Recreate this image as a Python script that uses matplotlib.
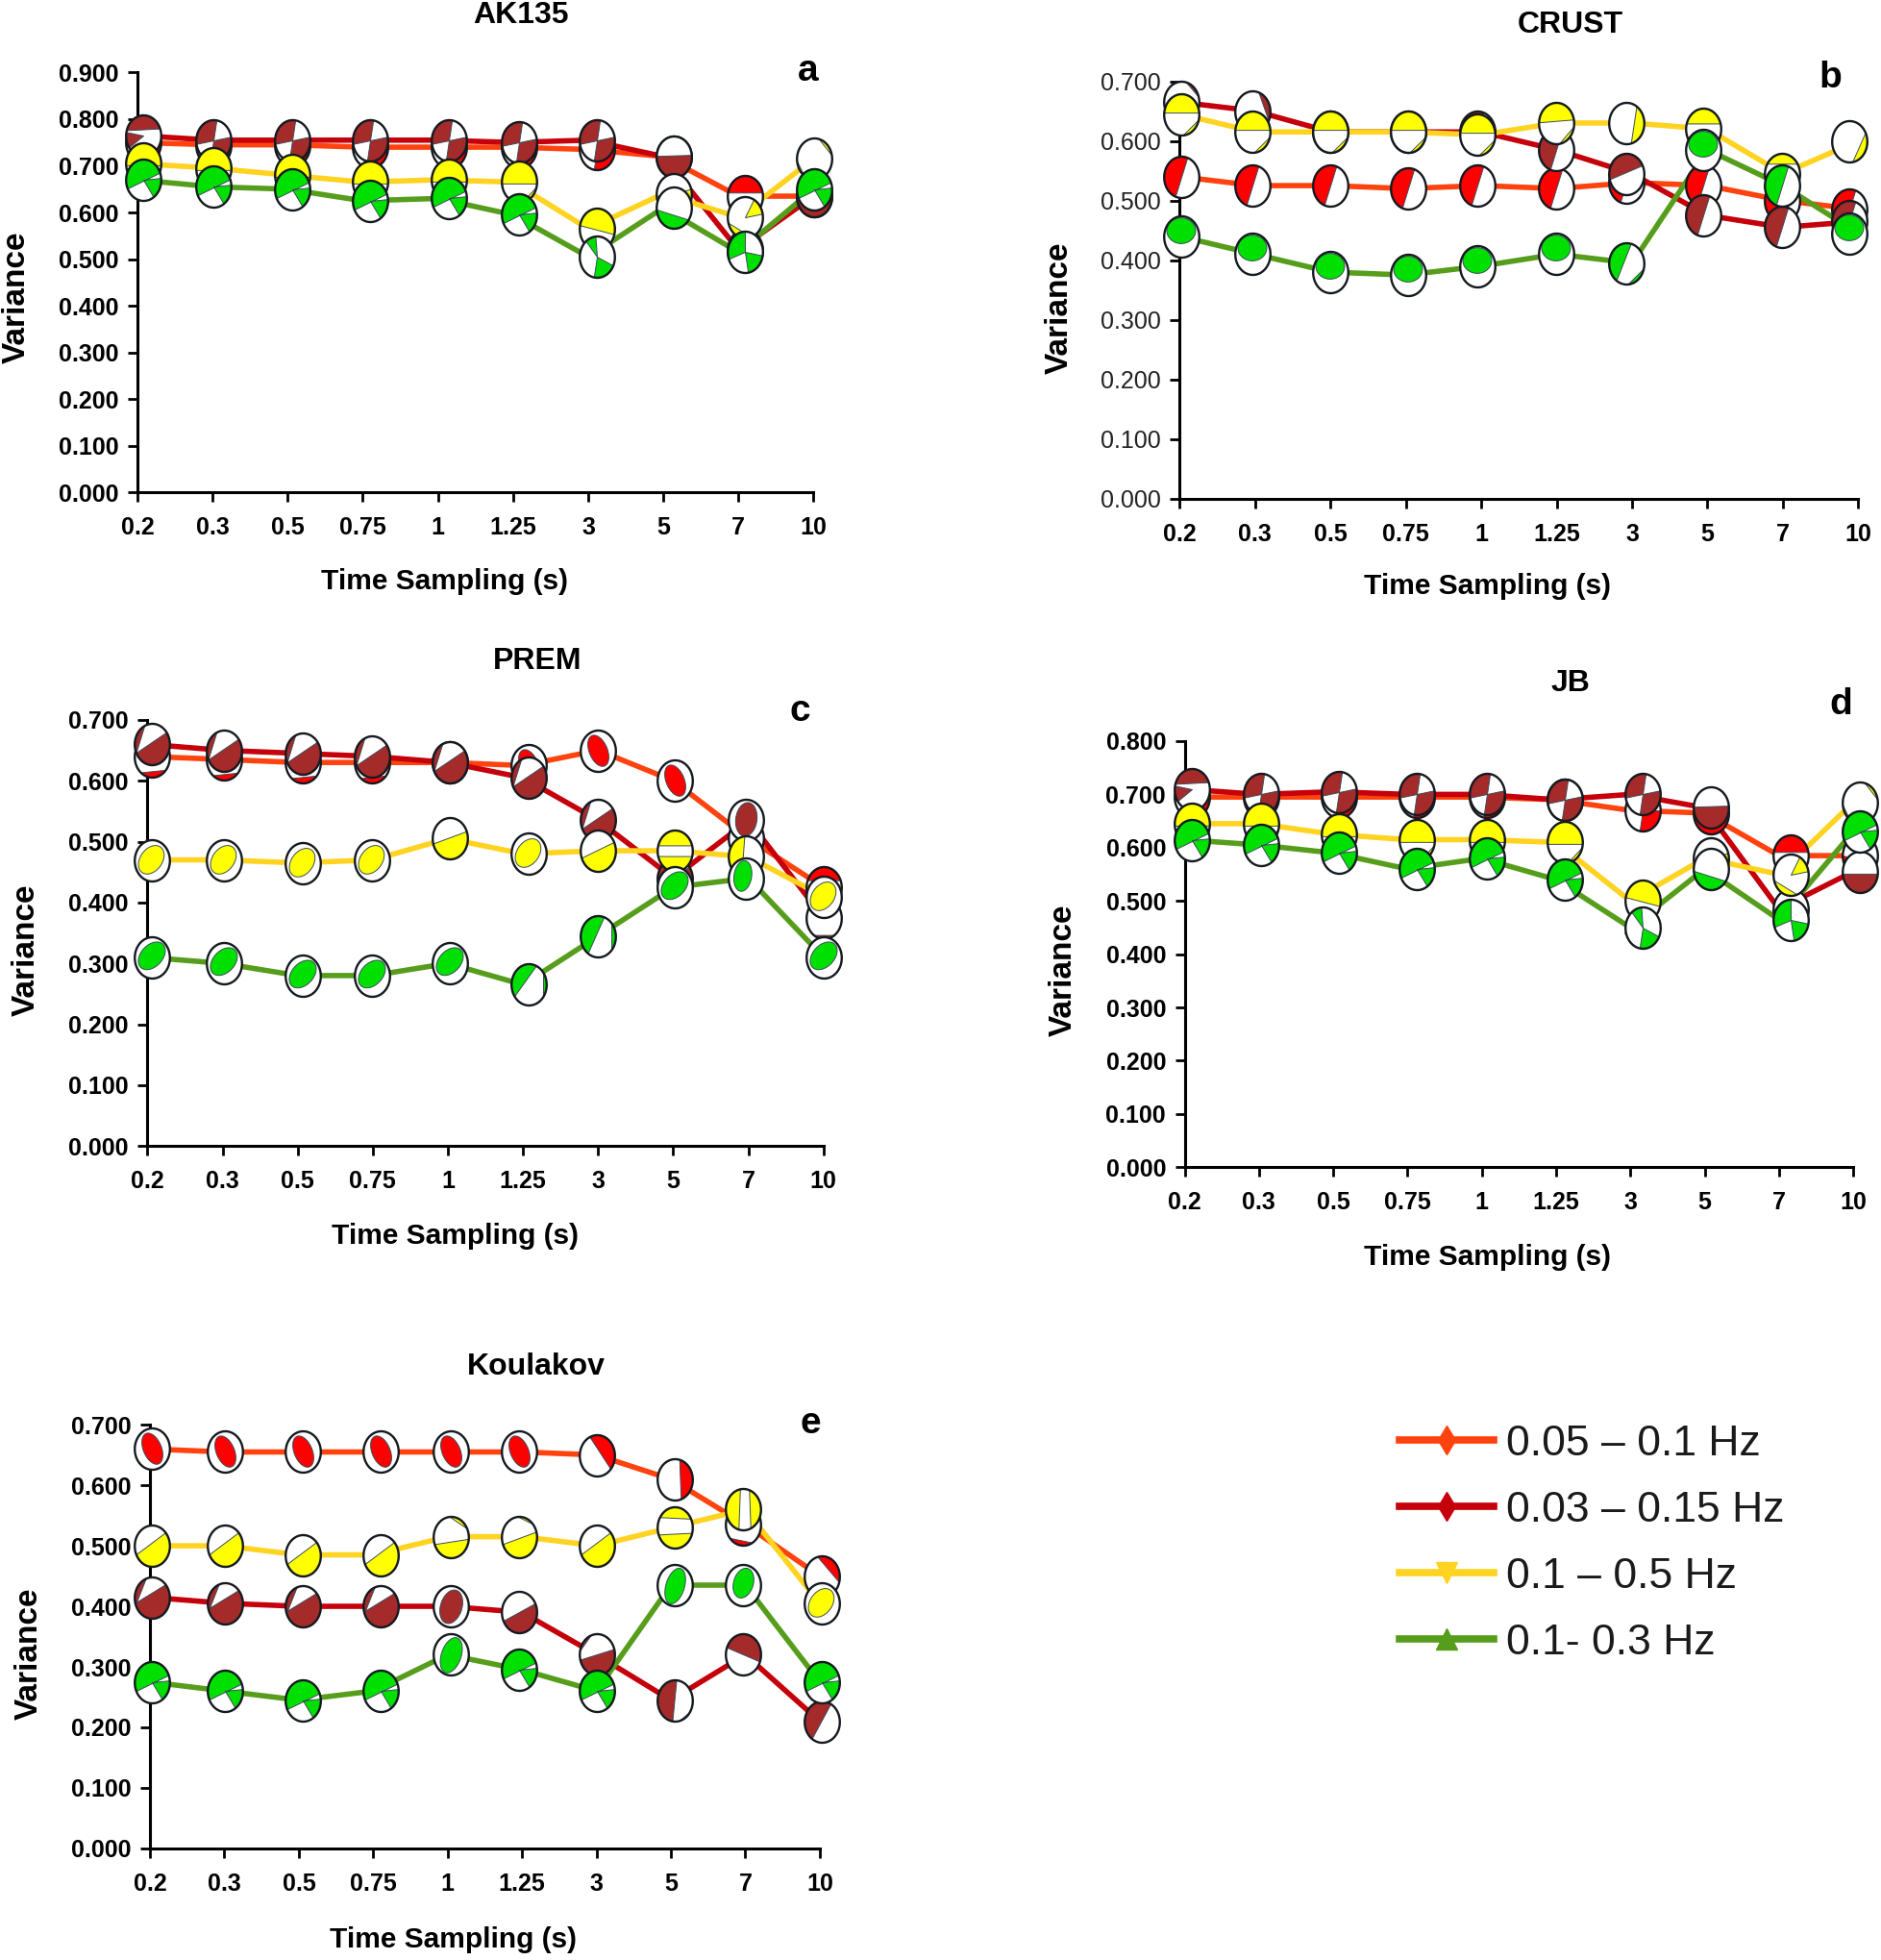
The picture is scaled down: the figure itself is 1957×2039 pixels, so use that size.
import matplotlib
matplotlib.use("Agg")
import matplotlib.pyplot as plt
import numpy as np
from matplotlib.markers import MarkerStyle
from matplotlib.path import Path
from matplotlib.transforms import offset_copy

plt.rcParams['font.family'] = ['Liberation Sans', 'DejaVu Sans']

W, H = 1958, 2039
S = 1958 / 1506  # layout numbers below were measured on the shrunk picture

time_labels = ['0.2', '0.3', '0.5', '0.75', '1', '1.25', '3', '5', '7', '10']
band_labels = ['0.05 – 0.1 Hz', '0.03 – 0.15 Hz', '0.1 – 0.5 Hz', '0.1- 0.3 Hz']

ak135_a = [.750, .745, .745, .740, .740, .740, .735, .720, .635, .635]
ak135_b = [.765, .755, .755, .755, .755, .750, .755, .720, .520, .635]
ak135_c = [.705, .695, .680, .665, .670, .665, .565, .640, .590, .715]
ak135_d = [.670, .655, .650, .625, .630, .595, .505, .610, .515, .650]

crust_a = [.540, .525, .525, .520, .525, .520, .530, .525, .500, .485]
crust_b = [.665, .650, .615, .615, .615, .585, .545, .475, .455, .465]
crust_c = [.645, .615, .615, .615, .610, .630, .630, .620, .545, .600]
crust_d = [.440, .410, .380, .375, .390, .410, .395, .585, .525, .445]

prem_a = [.640, .635, .630, .630, .630, .625, .650, .600, .505, .425]
prem_b = [.660, .650, .645, .640, .630, .605, .535, .440, .535, .375]
prem_c = [.470, .470, .465, .470, .505, .480, .485, .485, .475, .410]
prem_d = [.310, .300, .280, .280, .300, .265, .345, .425, .440, .310]

jb_a = [.695, .695, .695, .695, .695, .690, .670, .665, .585, .585]
jb_b = [.710, .700, .705, .700, .700, .690, .700, .675, .485, .555]
jb_c = [.645, .645, .625, .615, .615, .610, .500, .580, .550, .685]
jb_d = [.615, .605, .590, .560, .580, .540, .450, .560, .465, .630]

koul_a = [.660, .655, .655, .655, .655, .655, .650, .610, .535, .450]
koul_b = [.415, .405, .400, .400, .400, .390, .320, .245, .320, .210]
koul_c = [.500, .500, .485, .485, .515, .515, .500, .530, .560, .405]
koul_d = [.275, .260, .245, .260, .320, .295, .260, .435, .435, .275]

line_cols = ['#ff420e', '#c5000b', '#ffd320', '#579d1c']
ball_cols = ['#ff0000', '#a52a2a', '#ffff00', '#00e000']
line_marks = ['d', 'd', 'v', '^']

# beachball looks: (a0, a1) arc closed by a chord, (a0, a1, 'w') wedge, (cx, cy, rx, ry, tilt) ellipse
cross = [(80, 190, 'w'), (-100, 10, 'w')]
top_yel = [(-5, 185), (-80, -15)]
green_dc = [(20, 205), (-55, 5, 'w')]
split = [(70, 250)]
blob = [(-.06, .05, .82, .58, 40)]
lens = [(0, .02, .5, .82, 30)]
brown_low = [(195, 400), (110, 200)]
yel_cres = [(205, 400)]
green_top = [(-.03, .3, .82, .62, 0)]

shapes_ad = [
    (cross, {6: [(-100, 0, 'w')], 7: [(190, 340)], 8: [(10, 170)], 9: [(180, 340)]}),
    (cross, {0: [(20, 165), (170, 215, 'w')], 7: [(178, 365)], 8: [(180, 360)], 9: [(185, 355)]}),
    (top_yel, {6: [(-15, 170)], 7: [(185, 225, 'w'), (-30, 15, 'w')], 8: [(195, 290), (10, 60, 'w')],
               9: [(10, 75), (185, 235)]}),
    (green_dc, {6: [(-100, -25, 'w'), (95, 130, 'w')], 7: [(185, 325)], 8: [(90, 200, 'w'), (-80, -10, 'w')]}),
]
shapes_b = [
    (split, {}),
    (split, {0: [(15, 75)], 1: [(-25, 70)], 6: [(25, 195)]}),
    ([(5, 175), (-85, -15)], {5: [(10, 178), (-80, -10)], 6: [(-75, 55)], 7: [(15, 165)],
                               8: [(30, 150)], 9: [(-80, 25)]}),
    (green_top, {6: [(75, 235), (-85, -15)], 8: split}),
]
shapes_c = [
    ([(230, 320)], {5: lens, 6: lens, 7: lens, 8: [(20, 160)], 9: [(20, 160)]}),
    ([(205, 395), (115, 205)], {8: [(0, .05, .6, .82, -12)], 9: [(235, 305)]}),
    (blob, {4: [(195, 380)], 6: [(200, 385)], 7: [(15, 165), (195, 345)], 8: [(95, 255)]}),
    ([(-.03, .1, .85, .56, 35)], {5: [(65, 215), (-35, 35)], 6: [(70, 235), (-40, 40)],
                                  8: [(-.2, .15, .5, .75, -12)]}),
]
shapes_e = [
    (lens, {6: [(-40, 115)], 7: [(-70, 75)], 8: [(220, 300)], 9: [(-15, 105)]}),
    (brown_low, {4: [(0, 0, .6, .85, -25)], 5: [(205, 385)], 6: [(195, 375), (110, 170)],
                 7: [(85, 262), (-75, -35)], 8: [(-20, 160)], 9: [(60, 235)]}),
    (yel_cres, {4: [(200, 355), (25, 95)], 5: [(200, 375), (40, 95)], 7: [(25, 150), (200, 345)],
                8: [(100, 255), (-65, 70)], 9: blob}),
    (green_dc, {4: [(0, -.02, .55, .9, -25)], 7: [(0, -.02, .52, .9, -22)], 8: [(0, .12, .55, .75, -25)]}),
]

# axes box (x0, x1, y0, ytop), text spots, and how far each ball sits right of its tick in pixels
panels = [
    dict(title='AK135', letter='a', ymax=.9, data=[ak135_a, ak135_b, ak135_c, ak135_d],
         box=(110, 651, 394, 58), t=(417, 12), xl=(356, 465), yl=(13, 238), le=(647, 57),
         dx=[6, 1, 5, 8, 11, 6, 9, 11, 7, 1], shapes=shapes_ad),
    dict(title='CRUST', letter='b', ymax=.7, data=[crust_a, crust_b, crust_c, crust_d],
         box=(944, 1487, 399, 65), t=(1257, 20), xl=(1190, 469), yl=(848, 246), le=(1465, 62),
         dx=[2, -3, 0, 2, -4, -1, -6, -4, -1, -9], shapes=shapes_b, thin_y=True),
    dict(title='PREM', letter='c', ymax=.7, data=[prem_a, prem_b, prem_c, prem_d],
         box=(118, 659, 917, 576), t=(430, 529), xl=(364, 989), yl=(21, 760), le=(640, 569),
         dx=[5, 1, 5, -1, 2, 6, 0, 2, -3, 0], shapes=shapes_c),
    dict(title='JB', letter='d', ymax=.8, data=[jb_a, jb_b, jb_c, jb_d],
         box=(948, 1483, 934, 593), t=(1257, 547), xl=(1190, 1006), yl=(851, 776), le=(1473, 564),
         dx=[7, 2, 6, 10, 5, 9, 13, 6, 12, 7], shapes=shapes_ad),
    dict(title='Koulakov', letter='e', ymax=.7, data=[koul_a, koul_b, koul_c, koul_d],
         box=(120, 656, 1479, 1140), t=(429, 1094), xl=(363, 1552), yl=(23, 1323), le=(649, 1139),
         dx=[2, 1, 4, 8, 3, -3, 0, 4, -2, 2], shapes=shapes_e),
]

SQUISH = .85


def outline(shape):
    if len(shape) == 5:
        cx, cy, rx, ry, tilt = shape
        t = np.linspace(0, 2 * np.pi, 50)
        a = np.radians(tilt)
        px = rx * np.cos(t)
        py = ry * np.sin(t)
        pts = np.column_stack([cx + px * np.cos(a) - py * np.sin(a), cy + px * np.sin(a) + py * np.cos(a)])
        # keep a blob inside the ball
        r = np.hypot(pts[:, 0], pts[:, 1])
        return pts / np.maximum(r, 1)[:, None]
    t = np.radians(np.linspace(shape[0], shape[1], 50))
    pts = np.column_stack([np.cos(t), np.sin(t)])
    if len(shape) == 3:
        pts = np.vstack([[0, 0], pts])
    return np.vstack([pts, pts[:1]])


def ball_path(shapes):
    # the (1,1) moveto keeps matplotlib from rescaling each marker differently
    verts = [np.array([[1., 1.]])]
    codes = [[Path.MOVETO]]
    for s in shapes:
        pts = outline(s) * [SQUISH, 1]
        verts.append(pts)
        codes.append([Path.MOVETO] + [Path.LINETO] * (len(pts) - 2) + [Path.CLOSEPOLY])
    return Path(np.vstack(verts), np.concatenate(codes))


circle = ball_path([(0, 0, 1, 1, 0)])


def fx(v):
    return v * S / W


def fy(v):
    return 1 - v * S / H


fig = plt.figure(figsize=(W / 100, H / 100), dpi=100)

for p in panels:
    x0, x1, y0, y1 = p['box']
    ax = fig.add_axes([fx(x0), fy(y0), fx(x1) - fx(x0), fy(y1) - fy(y0)])
    x = np.arange(len(time_labels))
    for i, vals in enumerate(p['data']):
        ax.plot(x, vals, color=line_cols[i], lw=4, marker=line_marks[i], ms=9,
                clip_on=False, zorder=2, label=band_labels[i])
    for i, vals in enumerate(p['data']):
        default, special = p['shapes'][i]
        for j, v in enumerate(vals):
            shift = offset_copy(ax.transData, fig=fig, x=p['dx'][j], y=0, units='dots')
            look = special.get(j, default)
            z = 3 + i
            ax.plot([x[j]], [v], ls='none', marker=MarkerStyle(circle), ms=31, mfc='white', mec='none',
                    transform=shift, clip_on=False, zorder=z)
            ax.plot([x[j]], [v], ls='none', marker=MarkerStyle(ball_path(look)), ms=31, mfc=ball_cols[i],
                    mec='#3a4a5a', mew=.7, transform=shift, clip_on=False, zorder=z)
            ax.plot([x[j]], [v], ls='none', marker=MarkerStyle(circle), ms=31, mfc='none',
                    mec='#141a20', mew=1.7, transform=shift, clip_on=False, zorder=z)
    ax.set_xlim(0, 9)
    ax.set_ylim(0, p['ymax'])
    ax.set_xticks(x, time_labels)
    ticks = np.arange(0, p['ymax'] + .01, .1)
    ax.set_yticks(ticks, ['%.3f' % v for v in ticks])
    ax.spines[['top', 'right']].set_visible(False)
    ax.spines[['left', 'bottom']].set_linewidth(2.2)
    ax.tick_params(width=2, length=7)
    ax.tick_params(axis='x', pad=11, labelsize=18)
    ax.tick_params(axis='y', pad=7, labelsize=18)
    for t in ax.get_xticklabels():
        t.set_fontweight('bold')
    for t in ax.get_yticklabels():
        if p.get('thin_y'):
            t.set_color('#222222')
        else:
            t.set_fontweight('bold')
    fig.text(fx(p['t'][0]), fy(p['t'][1]), p['title'], ha='center', va='center', fontsize=23, fontweight='bold')
    fig.text(fx(p['xl'][0]), fy(p['xl'][1]), 'Time Sampling (s)', ha='center', va='center', fontsize=21.5, fontweight='bold')
    fig.text(fx(p['yl'][0]), fy(p['yl'][1]), 'Variance', ha='center', va='center', rotation=90, fontsize=24, fontweight='bold')
    fig.text(fx(p['le'][0]), fy(p['le'][1]), p['letter'], ha='center', va='center', fontsize=28, fontweight='bold')
    if p['letter'] == 'a':
        handles, labels = ax.get_legend_handles_labels()

leg = fig.legend(handles, labels, loc='center left', bbox_to_anchor=(fx(1089), fy(1235)), frameon=False,
                 fontsize=32, handlelength=2.2, handletextpad=.3, labelspacing=.63, markerscale=1.7,
                 labelcolor='#1a1a1a')
for h in leg.get_lines():
    h.set_linewidth(5.5)

fig.savefig('out.png', dpi=100)
